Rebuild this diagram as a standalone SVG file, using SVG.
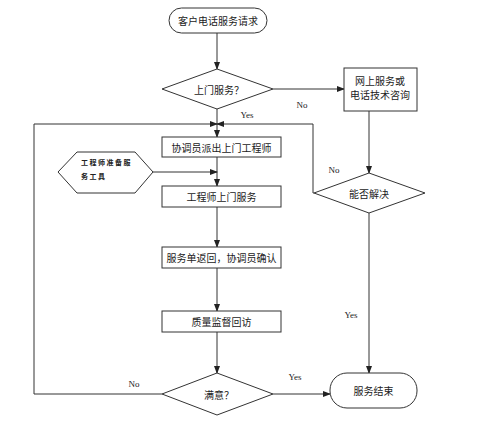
<svg xmlns="http://www.w3.org/2000/svg" width="493" height="432" viewBox="0 0 493 432">
<style>
.s{fill:#fff;stroke:#333;stroke-width:1}
.l{fill:none;stroke:#333;stroke-width:1}
.t{font-family:"Noto Sans CJK SC","Noto Sans",sans-serif;font-size:10px;fill:#222;text-anchor:middle;dominant-baseline:central}
.h{font-family:"Noto Sans CJK SC","Noto Sans",sans-serif;font-size:7px;fill:#222;font-weight:bold;letter-spacing:1.5px}
.e{font-family:"Liberation Serif",serif;font-size:9px;fill:#222;text-anchor:middle}
</style>
<defs>
<marker id="a" markerWidth="8" markerHeight="6" refX="7" refY="3" orient="auto" markerUnits="userSpaceOnUse">
<path d="M0,0 L8,3 L0,6 z" fill="#222"/>
</marker>
</defs>
<rect width="493" height="432" fill="#fff"/>
<g id="connectors">
<path class="l" d="M217,33 V69" marker-end="url(#a)"/>
<path class="l" d="M273,89 H344" marker-end="url(#a)"/>
<path class="l" d="M217,109 V137" marker-end="url(#a)"/>
<path class="l" d="M34,394 H162"/>
<path class="l" d="M34,394 V124 H217" marker-end="url(#a)"/>
<path class="l" d="M314,193 H313 V124 H217" marker-end="url(#a)"/>
<path class="l" d="M217,157 V186" marker-end="url(#a)"/>
<path class="l" d="M153,172 H217" marker-end="url(#a)"/>
<path class="l" d="M217,207 V247" marker-end="url(#a)"/>
<path class="l" d="M217,268 V311" marker-end="url(#a)"/>
<path class="l" d="M217,332 V373" marker-end="url(#a)"/>
<path class="l" d="M273,394 H330" marker-end="url(#a)"/>
<path class="l" d="M369,111 V173" marker-end="url(#a)"/>
<path class="l" d="M369,213 V373" marker-end="url(#a)"/>
<text class="e" x="302" y="108">No</text>
<text class="e" x="247" y="118">Yes</text>
<text class="e" x="334" y="173">No</text>
<text class="e" x="351" y="318">Yes</text>
<text class="e" x="295" y="380">Yes</text>
<text class="e" x="134" y="387">No</text>
</g>
<g id="start">
<rect class="s" x="169" y="8" width="98" height="25" rx="12.5"/>
<text class="t" x="218" y="20.5">客户电话服务请求</text>
</g>
<g id="d1">
<polygon class="s" points="162,89 217,69 273,89 217,109"/>
<text class="t" x="219" y="89">上门服务？</text>
</g>
<g id="online">
<rect class="s" x="344" y="68" width="73" height="43"/>
<text class="t" x="380" y="80">网上服务或</text>
<text class="t" x="380" y="94">电话技术咨询</text>
</g>
<g id="d2">
<polygon class="s" points="314,193 369,173 425,193 369,213"/>
<text class="t" x="369" y="193">能否解决</text>
</g>
<g id="b1">
<rect class="s" x="162" y="137" width="119" height="20"/>
<text class="t" x="221.5" y="147">协调员派出上门工程师</text>
</g>
<g id="hex">
<polygon class="s" points="58,172 77,152 135,152 153,172 135,193 77,193"/>
<text class="h" x="81" y="165">工程师准备服</text>
<text class="h" x="81" y="179">务工具</text>
</g>
<g id="b2">
<rect class="s" x="162" y="186" width="119" height="21"/>
<text class="t" x="221.5" y="196.5">工程师上门服务</text>
</g>
<g id="b3">
<rect class="s" x="162" y="247" width="119" height="21"/>
<text class="t" x="221.5" y="257.5">服务单返回，协调员确认</text>
</g>
<g id="b4">
<rect class="s" x="162" y="311" width="119" height="21"/>
<text class="t" x="221.5" y="321.5">质量监督回访</text>
</g>
<g id="d3">
<polygon class="s" points="162,394 217,373 273,394 217,415"/>
<text class="t" x="219" y="394">满意？</text>
</g>
<g id="end">
<rect class="s" x="330" y="373" width="87" height="35" rx="17"/>
<text class="t" x="373.5" y="390.5">服务结束</text>
</g>
</svg>
